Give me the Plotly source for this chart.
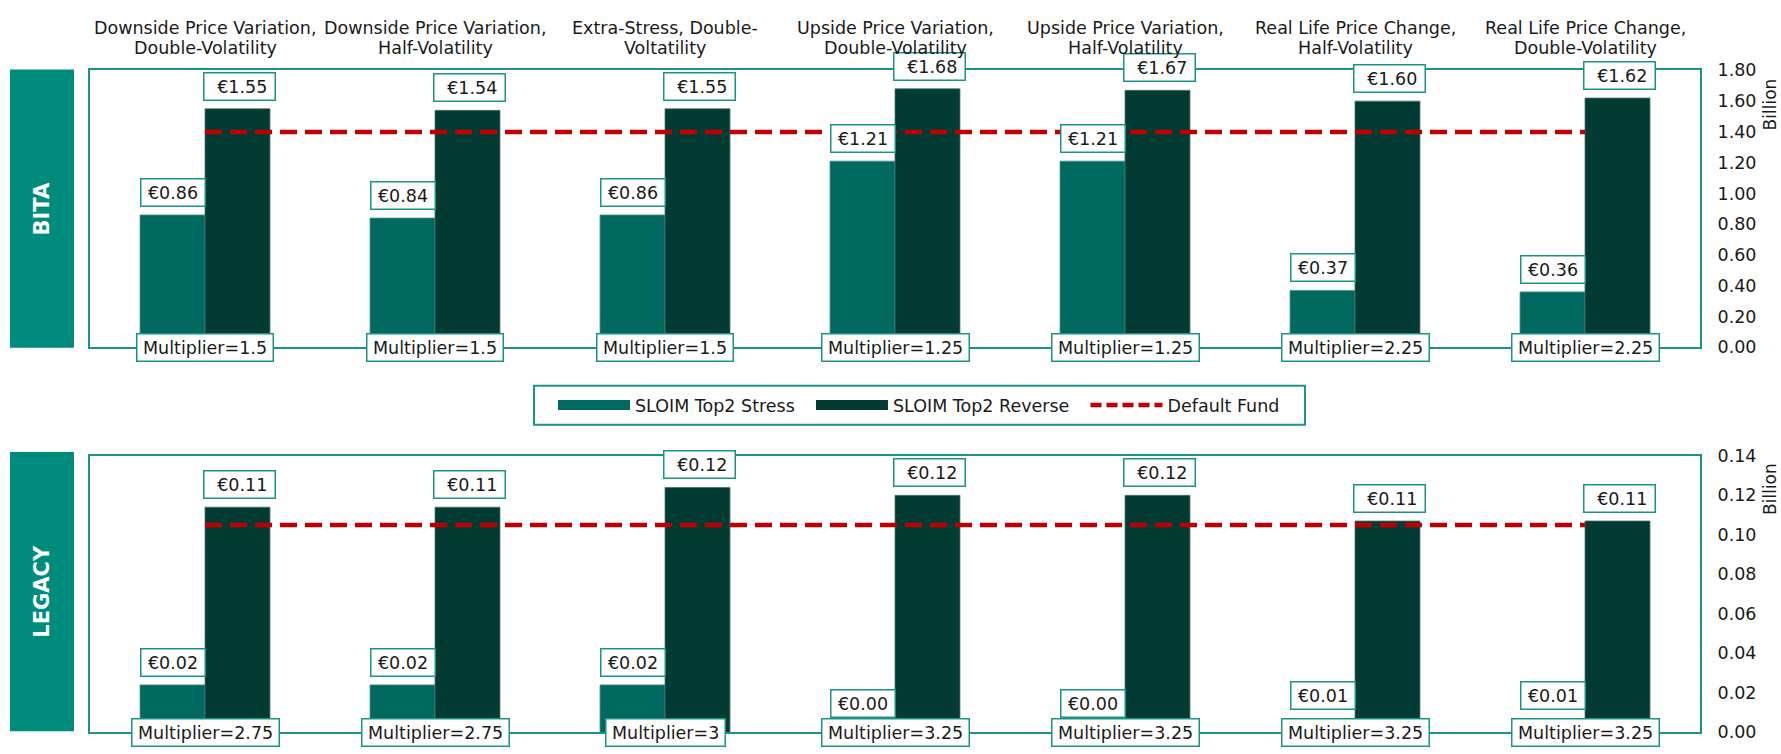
import plotly.graph_objects as go

# ---------------- data ----------------
categories = [
    "Downside Price Variation,<br>Double-Volatility",
    "Downside Price Variation,<br>Half-Volatility",
    "Extra-Stress, Double-<br>Voltatility",
    "Upside Price Variation,<br>Double-Volatility",
    "Upside Price Variation,<br>Half-Volatility",
    "Real Life Price Change,<br>Half-Volatility",
    "Real Life Price Change,<br>Double-Volatility",
]
bita_stress = [0.86, 0.84, 0.86, 1.21, 1.21, 0.37, 0.36]
bita_reverse = [1.55, 1.54, 1.55, 1.68, 1.67, 1.60, 1.62]
bita_default = [1.40, 1.40, 1.40, 1.40, 1.40, 1.40, 1.40]
bita_mult = ["1.5", "1.5", "1.5", "1.25", "1.25", "2.25", "2.25"]

legacy_stress = [0.024, 0.024, 0.024, 0.003, 0.003, 0.007, 0.007]
legacy_reverse = [0.114, 0.114, 0.124, 0.120, 0.120, 0.107, 0.107]
legacy_default = [0.105, 0.105, 0.105, 0.105, 0.105, 0.105, 0.105]
legacy_mult = ["2.75", "2.75", "3", "3.25", "3.25", "3.25", "3.25"]

panel_names = ["BITA", "LEGACY"]
series_names = ["SLOIM Top2 Stress", "SLOIM Top2 Reverse", "Default Fund"]

# ---------------- style ----------------
W, H = 1781, 754
FONT = "DejaVu Sans"
FS = 17.5
TXT = "#1a1a1a"
STRESS = "#00695F"
REVERSE = "#013B34"
RED = "#C00000"
TEAL = "#1A9485"
SIDE = "#008C7D"
BARGAP = 0.435
half_w = (1 - BARGAP) / 2 / 2  # offset of each bar centre from category centre


def px(xp):
    return xp / W


def py(yp):
    return 1 - yp / H


fig = go.Figure()

panels = [
    dict(stress=bita_stress, reverse=bita_reverse, default=bita_default, mult=bita_mult,
         xa="x", ya="y", rng=[0, 1.8], dtick=0.2, dom=[py(346.5), py(62)],
         side=(61, 347), billion_y=97),
    dict(stress=legacy_stress, reverse=legacy_reverse, default=legacy_default, mult=legacy_mult,
         xa="x2", ya="y2", rng=[0, 0.14], dtick=0.02, dom=[py(742), py(458)],
         side=(454, 741), billion_y=492),
]

annotations = []
shapes = []
label_font = dict(family=FONT, size=FS, color=TXT)

for k, p in enumerate(panels):
    fig.add_trace(go.Bar(x=categories, y=p["stress"],
                         marker=dict(color=STRESS, line=dict(color="#4a8f88", width=0.8)),
                         xaxis=p["xa"], yaxis=p["ya"], showlegend=False, name=series_names[0]))
    fig.add_trace(go.Bar(x=categories, y=p["reverse"],
                         marker=dict(color=REVERSE, line=dict(color="#46716c", width=0.8)),
                         xaxis=p["xa"], yaxis=p["ya"], showlegend=False, name=series_names[1]))
    fig.add_trace(go.Scatter(x=categories, y=p["default"], mode="lines",
                             line=dict(color=RED, width=4.5, dash="17px,8px"),
                             xaxis=p["xa"], yaxis=p["ya"], showlegend=False, name=series_names[2]))

    # value labels
    for i, v in enumerate(p["stress"]):
        annotations.append(dict(x=i - half_w, y=v, xref=p["xa"], yref=p["ya"], text="€%.2f" % v,
                                showarrow=False, xanchor="center", yanchor="bottom", yshift=8,
                                width=59, height=22, valign="middle",
                                bgcolor="white", bordercolor=TEAL, borderwidth=1.5, borderpad=2,
                                font=label_font))
    for i, v in enumerate(p["reverse"]):
        annotations.append(dict(x=i + half_w + 0.01, y=v, xref=p["xa"], yref=p["ya"],
                                text="\u00a0€%.2f" % v,
                                showarrow=False, xanchor="center", yanchor="bottom", yshift=8,
                                width=66, height=22, valign="middle",
                                bgcolor="white", bordercolor=TEAL, borderwidth=1.5, borderpad=2,
                                font=label_font))
    # multiplier labels
    for i, m in enumerate(p["mult"]):
        annotations.append(dict(x=i, y=0, xref=p["xa"], yref=p["ya"],
                                text="\u2009Multiplier=%s\u2009" % m,
                                showarrow=False, xanchor="center", yanchor="middle", height=22,
                                valign="middle", bgcolor="white", bordercolor=TEAL,
                                borderwidth=1.5, borderpad=2, font=label_font))
    # Billion
    annotations.append(dict(x=px(1770), y=py(p["billion_y"]), xref="paper", yref="paper", text="Billion",
                            textangle=-90, showarrow=False, xanchor="center", yanchor="middle",
                            font=dict(family=FONT, size=17, color=TXT)))
    # side label
    shapes.append(dict(type="rect", xref="paper", yref="paper", x0=px(10), x1=px(74),
                       y0=py(p["side"][1]), y1=py(p["side"][0]), fillcolor=SIDE, line=dict(width=0),
                       layer="below"))
    annotations.append(dict(x=px(42), y=py((p["side"][0] + p["side"][1]) / 2), xref="paper", yref="paper",
                            text="<b>%s</b>" % panel_names[k], textangle=-90, showarrow=False,
                            xanchor="center", yanchor="middle",
                            font=dict(family=FONT, size=21, color="white")))

# category titles (two lines each) above the top panel
for i, c in enumerate(categories):
    for j, line in enumerate(c.split("<br>")):
        annotations.append(dict(x=i, y=py(18 + 21 * j), xref="x", yref="paper", text=line,
                                showarrow=False, xanchor="center", yanchor="middle",
                                font=label_font))

# legend frame
shapes.append(dict(type="rect", xref="paper", yref="paper", x0=px(534), x1=px(1305),
                   y0=py(426), y1=py(386), fillcolor="white", line=dict(color=TEAL, width=2),
                   layer="below"))

# legend-only entries
fig.add_trace(go.Scatter(x=[None], y=[None], mode="lines", line=dict(color=STRESS, width=10),
                         name=series_names[0] + "\u00a0\u00a0"))
fig.add_trace(go.Scatter(x=[None], y=[None], mode="lines", line=dict(color=REVERSE, width=10),
                         name=series_names[1] + "\u00a0\u00a0"))
fig.add_trace(go.Scatter(x=[None], y=[None], mode="lines", line=dict(color=RED, width=4.5, dash="11px,5px"),
                         name=series_names[2]))

xa_common = dict(type="category", domain=[px(90), px(1700)], showline=True, mirror=True,
                 linecolor=TEAL, linewidth=2, showgrid=False, zeroline=False, ticks="",
                 range=[-0.5, 6.5], fixedrange=True, showticklabels=False)
ya_common = dict(side="right", showline=True, mirror=True, linecolor=TEAL, linewidth=2,
                 showgrid=False, zeroline=False, tickformat=".2f", ticks="",
                 tickfont=dict(family=FONT, size=FS, color=TXT), ticklabelstandoff=12)

fig.update_layout(
    width=W, height=H,
    margin=dict(l=0, r=0, t=0, b=0),
    paper_bgcolor="white", plot_bgcolor="white",
    barmode="group", bargap=BARGAP, bargroupgap=0,
    font=dict(family=FONT, size=FS, color=TXT),
    xaxis=dict(**xa_common, anchor="y"),
    xaxis2=dict(**xa_common, anchor="y2", matches="x"),
    yaxis=dict(**ya_common, anchor="x", domain=panels[0]["dom"], range=panels[0]["rng"], dtick=panels[0]["dtick"]),
    yaxis2=dict(**ya_common, anchor="x2", domain=panels[1]["dom"], range=panels[1]["rng"], dtick=panels[1]["dtick"]),
    legend=dict(orientation="h", x=px(553), y=py(406), xanchor="left", yanchor="middle",
                borderwidth=0, bgcolor="rgba(0,0,0,0)", itemwidth=72,
                font=dict(family=FONT, size=FS, color=TXT), traceorder="normal"),
    annotations=annotations,
    shapes=shapes,
    showlegend=True,
)

fig.write_html("out.html")
